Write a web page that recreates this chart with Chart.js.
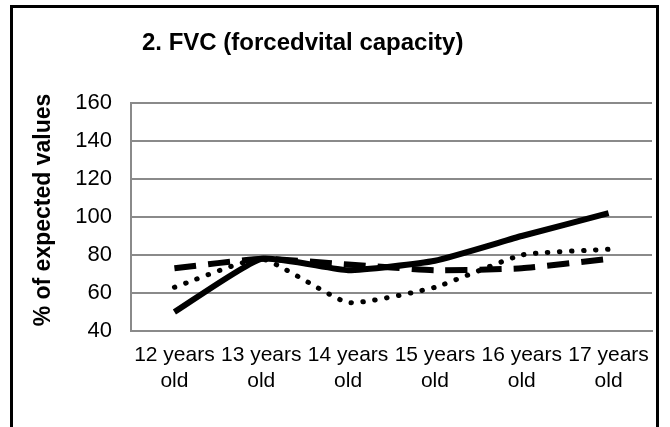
<!DOCTYPE html>
<html>
<head>
<meta charset="utf-8">
<script src="https://cdn.jsdelivr.net/npm/chart.js@4"></script>
<style>
html,body{margin:0;padding:0;background:#fff;}
#wrap{position:relative;width:670px;height:427px;overflow:hidden;}
#frame{position:absolute;left:10px;top:5px;width:643px;height:460px;border:3px solid #000;box-sizing:content-box;pointer-events:none;}
</style>
</head>
<body>
<div id="wrap">
<canvas id="c" width="670" height="427"></canvas>
<div id="frame"></div>
</div>
<script>
const categories = [["12 years","old"],["13 years","old"],["14 years","old"],["15 years","old"],["16 years","old"],["17 years","old"]];
const solidSeries = [50, 78, 72, 77, 90, 102];
const dashedSeries = [73, 78, 75, 72, 73, 78];
const dottedSeries = [63, 78, 55, 63, 80, 83];
const yTicks = [40, 60, 80, 100, 120, 140, 160];
const chartTitle = "2. FVC (forcedvital capacity)";
const yTitle = "% of expected values";

const FONT = "'Liberation Sans', Arial, sans-serif";

const textPlugin = {
  id: 'texts',
  afterDraw(chart) {
    const ctx = chart.ctx;
    ctx.save();
    ctx.fillStyle = '#000';
    ctx.font = "bold 24px " + FONT;
    ctx.textBaseline = 'middle';
    ctx.textAlign = 'left';
    ctx.fillText(chartTitle, 142, 43);
    ctx.translate(44, 210);
    ctx.rotate(-Math.PI / 2);
    ctx.textAlign = 'center';
    ctx.font = "bold 23px " + FONT;
    ctx.fillText(yTitle, 0, 0);
    ctx.restore();
  }
};

new Chart(document.getElementById('c'), {
  type: 'line',
  data: {
    labels: categories,
    datasets: [
      { data: dottedSeries, borderColor: '#000', borderWidth: 5, borderDash: [0.5, 11.5], borderCapStyle: 'round', tension: 0.15, pointRadius: 0, fill: false },
      { data: dashedSeries, borderColor: '#000', borderWidth: 6, borderDash: [22, 12], borderCapStyle: 'butt', tension: 0.15, pointRadius: 0, fill: false },
      { data: solidSeries, borderColor: '#000', borderWidth: 6, tension: 0.15, pointRadius: 0, fill: false }
    ]
  },
  options: {
    responsive: false,
    animation: false,
    layout: { padding: { left: 0, top: 103, right: 18, bottom: 0 } },
    plugins: { legend: { display: false }, title: { display: false }, tooltip: { enabled: false } },
    scales: {
      x: {
        offset: true,
        grid: { display: false, drawTicks: false },
        border: { display: true, color: '#8a8a8a', width: 2 },
        ticks: { color: '#000', font: { family: FONT, size: 21 }, maxRotation: 0, minRotation: 0, autoSkip: false, padding: 12 },
        afterFit(s) { s.height = 96; }
      },
      y: {
        min: 40, max: 160,
        afterBuildTicks(s) { s.ticks = yTicks.map(v => ({ value: v })); },
        grid: { color: '#8a8a8a', lineWidth: 2, drawTicks: false },
        border: { display: true, color: '#8a8a8a', width: 2 },
        ticks: { color: '#000', font: { family: FONT, size: 22 }, padding: 19 },
        afterFit(s) { s.width = 131; }
      }
    }
  },
  plugins: [textPlugin]
});
</script>
</body>
</html>
